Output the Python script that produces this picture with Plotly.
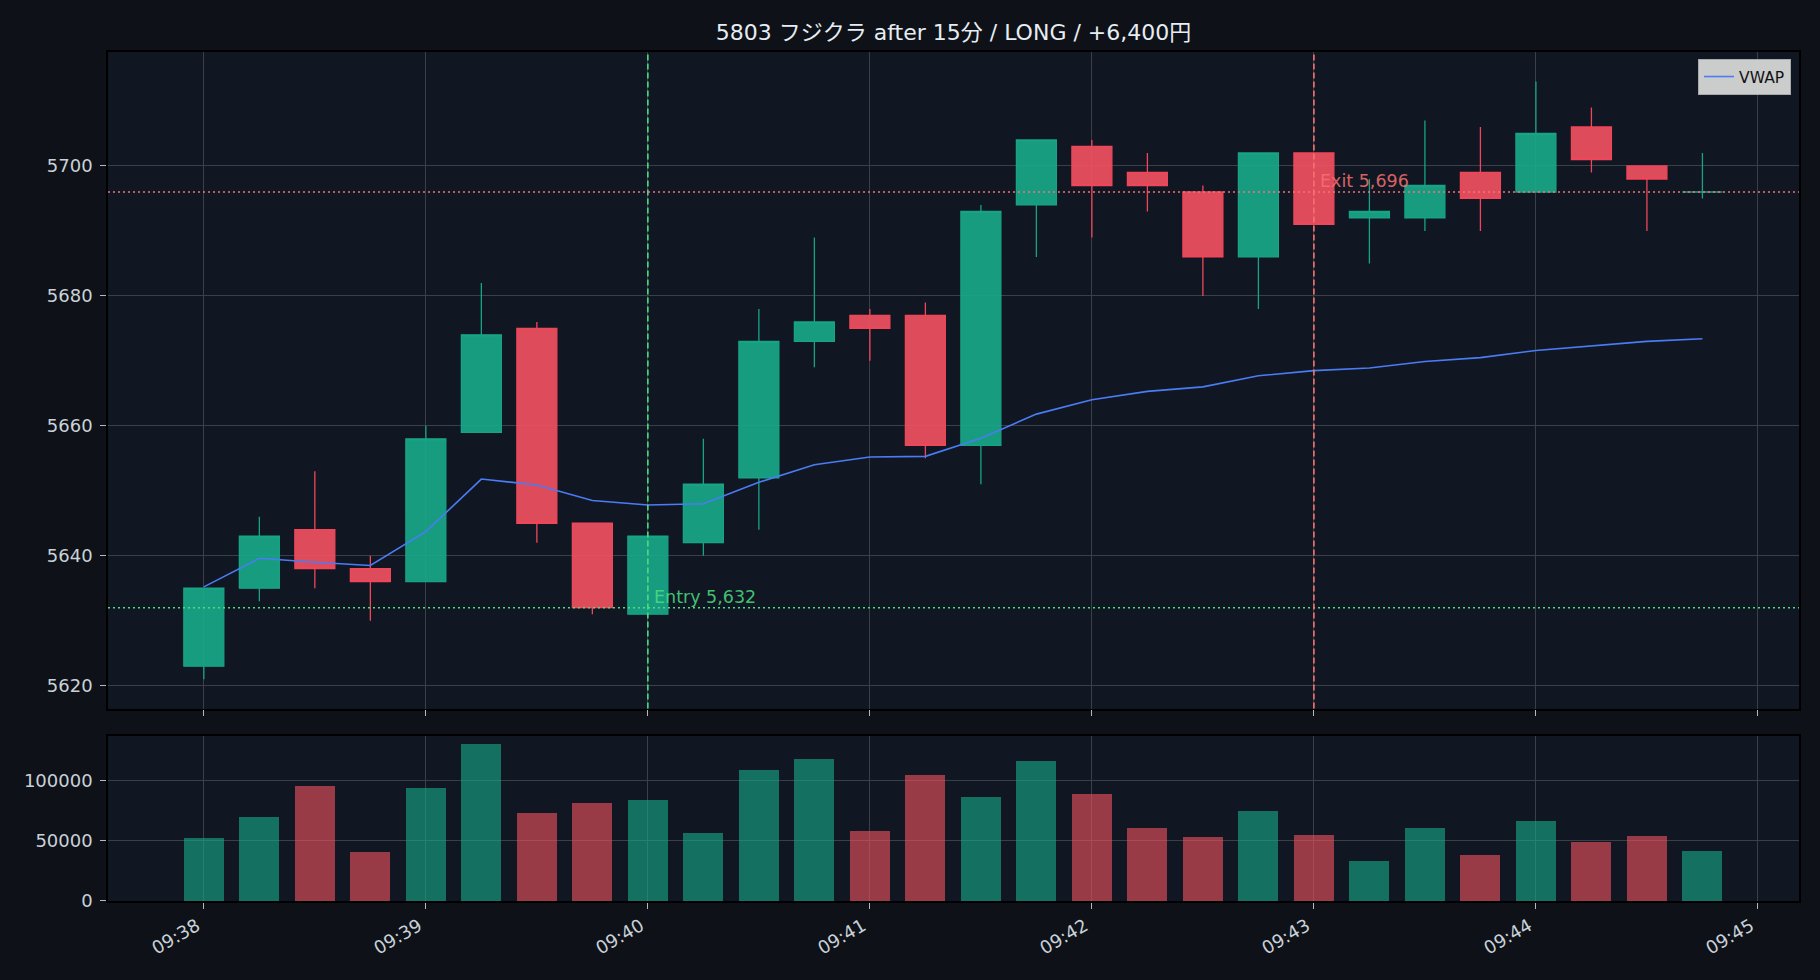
import plotly.graph_objects as go

DAY = "2024-01-01 "
times = ["09:38:00", "09:38:15", "09:38:30", "09:38:45",
         "09:39:00", "09:39:15", "09:39:30", "09:39:45",
         "09:40:00", "09:40:15", "09:40:30", "09:40:45",
         "09:41:00", "09:41:15", "09:41:30", "09:41:45",
         "09:42:00", "09:42:15", "09:42:30", "09:42:45",
         "09:43:00", "09:43:15", "09:43:30", "09:43:45",
         "09:44:00", "09:44:15", "09:44:30", "09:44:45"]
opens = [5623, 5635, 5644, 5638, 5636, 5659, 5675, 5645, 5631, 5642, 5652, 5673, 5677, 5677,
         5657, 5694, 5703, 5699, 5696, 5686, 5702, 5692, 5692, 5699, 5696, 5706, 5700, 5696]
highs = [5635, 5646, 5653, 5640, 5660, 5682, 5676, 5645, 5643, 5658, 5678, 5689, 5678, 5679,
         5694, 5704, 5704, 5702, 5697, 5702, 5702, 5698, 5707, 5706, 5713, 5709, 5700, 5702]
lows = [5621, 5633, 5635, 5630, 5636, 5659, 5642, 5631, 5631, 5640, 5644, 5669, 5670, 5655,
        5651, 5686, 5689, 5693, 5680, 5678, 5691, 5685, 5690, 5690, 5696, 5699, 5690, 5695]
closes = [5635, 5643, 5638, 5636, 5658, 5674, 5645, 5632, 5643, 5651, 5673, 5676, 5675, 5657,
          5693, 5704, 5697, 5697, 5686, 5702, 5691, 5693, 5697, 5695, 5705, 5701, 5698, 5696]
vwap = [5635.2, 5639.6, 5639.0, 5638.5, 5643.7, 5651.8, 5650.9, 5648.5, 5647.8, 5648.0,
        5651.3, 5654.0, 5655.2, 5655.3, 5658.1, 5661.8, 5664.0, 5665.3, 5666.0, 5667.7,
        5668.5, 5668.9, 5669.9, 5670.5, 5671.6, 5672.3, 5673.0, 5673.4]
volumes = [52900, 70600, 95800, 41200, 94100, 131100, 73900, 81500, 84000, 57100,
           109200, 118500, 58800, 105000, 86600, 116800, 89100, 61300, 53800, 75600,
           55500, 33600, 61300, 38700, 67200, 49600, 54600, 42000]

entry_time = "09:40:00"
exit_time = "09:43:00"
entry_price = 5632
exit_price = 5696
title_text = "5803 フジクラ after 15分 / LONG / +6,400円"
xtick_labels = ["09:38", "09:39", "09:40", "09:41", "09:42", "09:43", "09:44", "09:45"]

FONT = "DejaVu Sans, Noto Sans CJK JP, sans-serif"
GREEN_LINE = "#17a386"
GREEN_FILL = "rgba(24,171,139,0.9)"
RED_LINE = "#ef4659"
RED_FILL = "rgba(245,81,96,0.9)"
GREEN_VOL = "rgba(24,171,139,0.6)"
RED_VOL = "rgba(245,81,96,0.6)"
ENTRY_C = "#4ade80"
EXIT_C = "#f87171"
GRID = "#3b3f48"
TICK_TXT = "#c9d1d9"

xs = [DAY + t for t in times]
up = [c >= o for o, c in zip(opens, closes)]

fig = go.Figure()

for is_up, line_c, fill_c in [(True, GREEN_LINE, GREEN_FILL), (False, RED_LINE, RED_FILL)]:
    idx = [i for i in range(len(xs)) if up[i] == is_up]
    style = dict(line=dict(color=line_c, width=1.3), fillcolor=fill_c)
    fig.add_trace(go.Candlestick(
        x=[xs[i] for i in idx], open=[opens[i] for i in idx], high=[highs[i] for i in idx],
        low=[lows[i] for i in idx], close=[closes[i] for i in idx],
        increasing=style, decreasing=style, whiskerwidth=0,
        showlegend=False, hoverinfo="skip", xaxis="x", yaxis="y"))

fig.add_trace(go.Scatter(x=xs, y=vwap, mode="lines", name="VWAP",
                         line=dict(color="#4a7cf5", width=1.6), xaxis="x", yaxis="y"))

fig.add_trace(go.Bar(x=xs, y=volumes, width=10800,
                     marker=dict(color=[GREEN_VOL if u else RED_VOL for u in up], line=dict(width=0)),
                     showlegend=False, xaxis="x2", yaxis="y2"))

# entry / exit lines
for t, p, col, label in [(entry_time, entry_price, ENTRY_C, "Entry"), (exit_time, exit_price, EXIT_C, "Exit")]:
    fig.add_shape(type="line", xref="x", yref="y domain", x0=DAY + t, x1=DAY + t, y0=0, y1=1,
                  line=dict(color=col, width=1.6, dash="6px,3px"))
    fig.add_shape(type="line", xref="x domain", yref="y", x0=0, x1=1, y0=p, y1=p,
                  line=dict(color=col, width=1.5, dash="2px,3px"))
    fig.add_annotation(x=DAY + t, y=p, xref="x", yref="y", text=f"{label} {p:,}",
                       showarrow=False, xanchor="left", yanchor="bottom", xshift=4, yshift=-1,
                       font=dict(family=FONT, size=17.5, color=col), opacity=0.85)

axis_common = dict(showgrid=True, gridcolor=GRID, gridwidth=1, zeroline=False,
                   showline=True, mirror=True, linecolor="#000000", linewidth=1.5,
                   ticks="outside", ticklen=6, tickwidth=1.2, tickcolor="#b8b8b8",
                   tickfont=dict(family=FONT, size=18, color=TICK_TXT))

xrange = [DAY + "09:37:34.1", DAY + "09:45:11.1"]
tickvals = [DAY + t + ":00" for t in xtick_labels]

fig.update_layout(
    width=1820, height=980,
    paper_bgcolor="#0e1117", plot_bgcolor="#111722",
    margin=dict(l=108, r=21, t=52, b=79),
    font=dict(family=FONT, color=TICK_TXT),
    title=dict(text=title_text, x=(0.5 * (108 + 1799)) / 1820, xanchor="center",
               y=1 - 32.7 / 980, yanchor="middle",
               font=dict(family=FONT, size=22, color="#e6edf3")),
    boxgap=0.28,
    boxgroupgap=0,
    bargap=0,
    showlegend=True,
    legend=dict(x=0.9953, y=0.9918, xanchor="right", yanchor="top",
                bgcolor="rgba(214,214,214,0.95)", bordercolor="#a8a8a8", borderwidth=1,
                font=dict(family=FONT, size=15.5, color="#111111"), itemwidth=30),
    xaxis=dict(domain=[0, 1], anchor="y", range=xrange, tickvals=tickvals, ticktext=xtick_labels,
               showticklabels=False, rangeslider=dict(visible=False), **axis_common),
    yaxis=dict(domain=[0.2266, 1], anchor="x", range=[5616.46, 5717.55], tick0=5620, dtick=20,
               ticklabelstandoff=4, **axis_common),
    xaxis2=dict(domain=[0, 1], anchor="y2", range=xrange, tickvals=tickvals, ticktext=xtick_labels,
                tickangle=-30, ticklabelshift=-7, **axis_common),
    yaxis2=dict(domain=[0, 0.1947], anchor="x2", range=[0, 137700], tick0=0, dtick=50000,
                tickformat="d", ticklabelstandoff=4, **axis_common),
)

fig.write_html("out.html")
